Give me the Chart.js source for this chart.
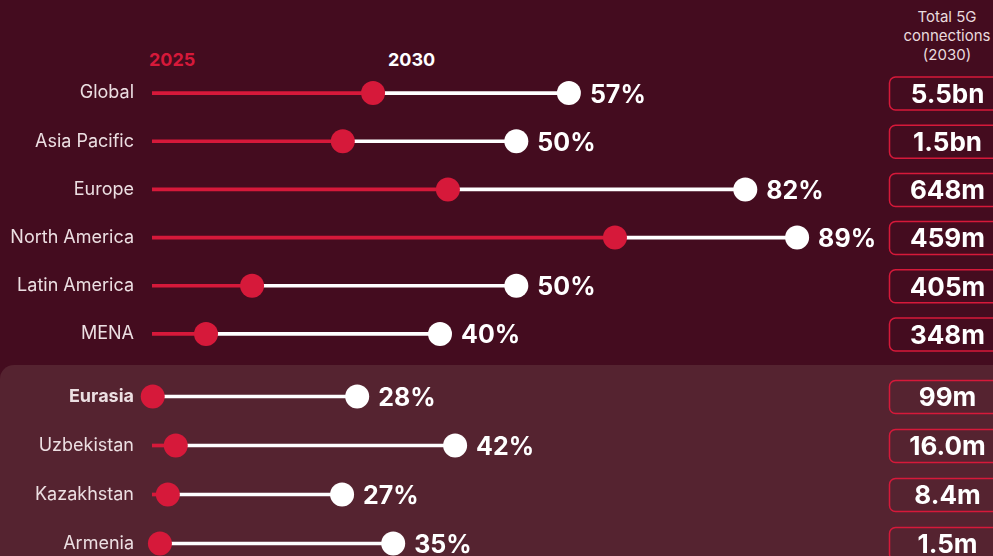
<!DOCTYPE html>
<html lang="en">
<head>
    <meta charset="UTF-8">
    <title>5G adoption 2025 vs 2030</title>
    <script src="https://cdn.jsdelivr.net/npm/chart.js"></script>
    <style>
        body {
            margin: 0;
            width: 993px;
            height: 556px;
            overflow: hidden;
            background: #440c1f;
            font-family: 'Inter', 'Noto Sans', sans-serif;
            position: relative;
        }
        .head {
            position: absolute;
            color: #e9dbde;
            font-size: 15px;
            line-height: 19px;
            text-align: center;
            width: 140px;
            left: 877px;
            top: 7px;
        }
        .year {
            position: absolute;
            top: 49px;
            font-size: 18px;
            font-weight: 700;
        }
        .panel {
            position: absolute;
            left: 0;
            top: 365px;
            width: 993px;
            height: 220px;
            background: #552330;
            border-top-left-radius: 14px;
        }
        .box { position: absolute; left: 0; width: 993px; }
    </style>
</head>
<body>
    <div class="head">Total 5G<br>connections<br>(2030)</div>
    <div class="year" style="left:149px;color:#d6193a;">2025</div>
    <div class="year" style="left:388px;color:#ffffff;">2030</div>
    <div class="box" style="top:0;height:370px;"><canvas id="topChart"></canvas></div>
    <div class="panel"></div>
    <div class="box" style="top:360px;height:220px;"><canvas id="bottomChart"></canvas></div>
    <script>
        const RED = '#d6193a';

        // Regions (top block)
        const regions = ['Global', 'Asia Pacific', 'Europe', 'North America', 'Latin America', 'MENA'];
        const regions2025 = [30.7, 26.5, 41.1, 64.3, 13.9, 7.5];
        const regions2030 = [57.9, 50.6, 82.4, 89.6, 50.6, 40.0];
        const regionsPct = ['57%', '50%', '82%', '89%', '50%', '40%'];
        const regionsTotal = ['5.5bn', '1.5bn', '648m', '459m', '405m', '348m'];

        // Eurasia markets (bottom panel)
        const markets = ['Eurasia', 'Uzbekistan', 'Kazakhstan', 'Armenia'];
        const markets2025 = [0.1, 3.3, 2.2, 1.1];
        const markets2030 = [28.5, 42.1, 26.4, 33.5];
        const marketsPct = ['28%', '42%', '27%', '35%'];
        const marketsTotal = ['99m', '16.0m', '8.4m', '1.5m'];

        function makeChart(id, labels, v25, v30, pct, totals, boldFirst, padTop, padBottom) {
            const labelsPlugin = {
                id: 'rowLabels',
                afterDatasetsDraw(chart) {
                    const ctx = chart.ctx;
                    const pts = chart.getDatasetMeta(3).data;
                    ctx.save();
                    ctx.textBaseline = 'middle';
                    pts.forEach((p, i) => {
                        // percentage after the 2030 dot
                        ctx.fillStyle = '#ffffff';
                        ctx.font = 'bold 25px Inter, sans-serif';
                        ctx.textAlign = 'left';
                        ctx.fillText(pct[i], p.x + 21, p.y + 2);
                        // total box on the right
                        ctx.strokeStyle = RED;
                        ctx.lineWidth = 1.5;
                        ctx.beginPath();
                        ctx.roundRect(889.5, p.y - 16, 117, 33, 6);
                        ctx.stroke();
                        ctx.font = 'bold 26px Inter, sans-serif';
                        ctx.textAlign = 'center';
                        ctx.fillText(totals[i], 947.5, p.y + 2);
                    });
                    ctx.restore();
                }
            };

            return new Chart(document.getElementById(id), {
                type: 'bar',
                data: {
                    labels: labels,
                    datasets: [
                        {
                            data: v25.map(v => [0, v]),
                            backgroundColor: RED,
                            barThickness: 3,
                            grouped: false,
                            order: 3
                        },
                        {
                            data: v25.map((v, i) => [v, v30[i]]),
                            backgroundColor: '#ffffff',
                            barThickness: 3,
                            grouped: false,
                            order: 2
                        },
                        {
                            type: 'line',
                            data: v25,
                            showLine: false,
                            clip: false,
                            pointRadius: 12,
                            pointBackgroundColor: RED,
                            pointBorderWidth: 0,
                            order: 1
                        },
                        {
                            type: 'line',
                            data: v30,
                            showLine: false,
                            clip: false,
                            pointRadius: 12,
                            pointBackgroundColor: '#ffffff',
                            pointBorderWidth: 0,
                            order: 0
                        }
                    ]
                },
                options: {
                    indexAxis: 'y',
                    responsive: true,
                    maintainAspectRatio: false,
                    animation: false,
                    layout: { padding: { left: 0, right: 121, top: padTop, bottom: padBottom } },
                    plugins: {
                        legend: { display: false },
                        tooltip: { enabled: false }
                    },
                    scales: {
                        x: { display: false, min: 0, max: 100 },
                        y: {
                            grid: { display: false, drawTicks: false },
                            border: { display: false },
                            afterFit(scale) {
                                scale.width = 152;
                                scale.paddingTop = 0;
                                scale.paddingBottom = 0;
                            },
                            ticks: {
                                padding: 18,
                                color: '#ecdfe2',
                                font: (c) => ({
                                    size: 18,
                                    family: 'Inter',
                                    weight: boldFirst && c.index === 0 ? 'bold' : 'normal'
                                })
                            }
                        }
                    }
                },
                plugins: [labelsPlugin]
            });
        }

        makeChart('topChart', regions, regions2025, regions2030, regionsPct, regionsTotal, false, 69, 11);
        makeChart('bottomChart', markets, markets2025, markets2030, marketsPct, marketsTotal, true, 11.5, 11);
    </script>
</body>
</html>
